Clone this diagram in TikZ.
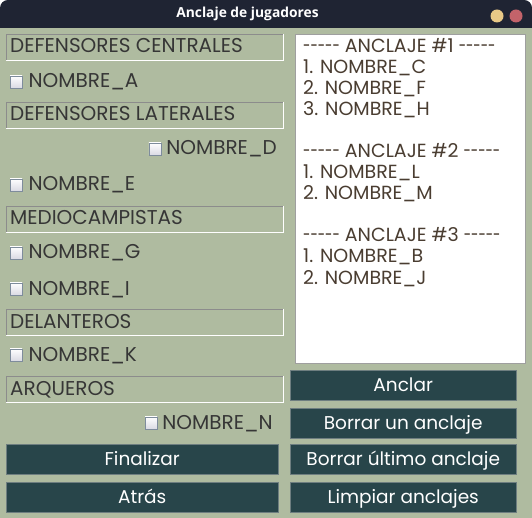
\documentclass[tikz,border=0pt]{standalone}
\usepackage{graphicx}
\usepackage{fontspec}
\setmainfont{Poppins}
\newfontfamily\titulofont{Open Sans}
\usetikzlibrary{positioning}
\definecolor{salvia}{HTML}{AFBBA0}
\definecolor{barra}{HTML}{1F2433}
\definecolor{boton}{HTML}{28454A}
\definecolor{botonborde}{HTML}{6E7E80}
\definecolor{letra}{HTML}{363636}
\definecolor{casillaborde}{HTML}{7E8C9C}
\definecolor{amarillo}{HTML}{E8C987}
\definecolor{rojo}{HTML}{C3636A}
\def\guion{\scalebox{0.7}[1]{-}}
\def\guiones{\guion\guion\guion\guion\guion}
\begin{document}
\begin{tikzpicture}[
        x=1pt, y=-1pt,
        font=\fontsize{20}{23}\selectfont,
        text=letra
    ]
    \tikzset{
        cabecera/.style = {rectangle, anchor=north west, minimum width=277pt, minimum height=26pt, inner sep=0pt},
        etiqueta/.style = {inner sep=0pt, text=letra},
        casilla/.style = {rectangle, draw=casillaborde, top color=white, bottom color=blue!15!gray!25, minimum size=12pt, inner sep=0pt},
        boton/.style = {rectangle, draw=botonborde, fill=boton, text=white, anchor=north west, minimum height=30pt, inner sep=0pt,
            text height=15pt, text depth=3pt, font=\fontsize{18.5}{21}\selectfont},
        renglon/.style = {inner sep=0pt, anchor=base west, text=letra!90!orange, font=\fontsize{19}{21}\selectfont},
    }
    % ventana
    \fill[white] (0,0) rectangle (532,518);
    \useasboundingbox (0,0) rectangle (532,518);
    \fill[barra, rounded corners=8pt] (0,0) rectangle (532,40);
    \fill[salvia] (0,28) rectangle (532,518);
    \node[text=white, font=\titulofont\bfseries\fontsize{13.8}{16}\selectfont] (titulo) at (247.5,14) {Anclaje de jugadores};
    \fill[amarillo] (497,16) circle (6.5pt);
    \fill[rojo] (516,16) circle (6.5pt);
    % cabeceras
    \foreach \y/\n/\txt in {34/dc/DEFENSORES CENTRALES, 102/dl/DEFENSORES LATERALES, 206/mc/MEDIOCAMPISTAS, 309/de/DELANTEROS, 376/ar/ARQUEROS} {
        \node[cabecera] (h\n) at (6,\y) {};
        \draw[white] (h\n.south west) -- (h\n.south east) -- (h\n.north east);
        \draw[gray!90] (h\n.south west) -- (h\n.north west) -- (h\n.north east);
        \node[etiqueta, anchor=base west] (t\n) at ([xshift=4pt, yshift=-19pt]h\n.north west) {\txt};
    }
    % casillas
    \foreach \y/\n/\l in {88/a/A, 191/e/E, 259/g/G, 295/i/I, 361/k/K} {
        \node[casilla, anchor=south west] (c\n) at (10,\y) {};
        \node[etiqueta, anchor=base west] (n\n) at ([xshift=6pt]c\n.south east) {NOMBRE\_\l};
    }
    \node[etiqueta, anchor=base east] (nd) at (277,155) {NOMBRE\_D};
    \node[casilla, anchor=south east] (cd) at ([xshift=-5pt]nd.base west) {};
    \node[etiqueta, anchor=base east] (nn) at (273,429) {NOMBRE\_N};
    \node[casilla, anchor=south east] (cn) at ([xshift=-5pt]nn.base west) {};
    % lista de anclajes
    \node[rectangle, draw=gray!75, line width=1pt, fill=white, anchor=north west, minimum width=230pt, minimum height=329pt, inner sep=0pt] (lista) at (295,34) {};
    \foreach \i/\txt in {0/{\guiones{} ANCLAJE \#1 \guiones}, 1/1. NOMBRE\_C, 2/2. NOMBRE\_F, 3/3. NOMBRE\_H,
            5/{\guiones{} ANCLAJE \#2 \guiones}, 6/1. NOMBRE\_L, 7/2. NOMBRE\_M,
            9/{\guiones{} ANCLAJE \#3 \guiones}, 10/1. NOMBRE\_B, 11/2. NOMBRE\_J} {
        \node[renglon] (r\i) at (303,{53+21*\i}) {\txt};
    }
    % botones
    \node[boton, minimum width=226pt] (anclar) at (290,370) {Anclar};
    \node[boton, minimum width=226pt] (borraruno) at (290,408) {Borrar un anclaje};
    \node[boton, minimum width=226pt] (borrarult) at (290,444) {Borrar último anclaje};
    \node[boton, minimum width=226pt] (limpiar) at (290,482) {Limpiar anclajes};
    \node[boton, minimum width=272pt] (finalizar) at (6,444) {Finalizar};
    \node[boton, minimum width=272pt] (atras) at (6,482) {Atrás};
\end{tikzpicture}
\end{document}
